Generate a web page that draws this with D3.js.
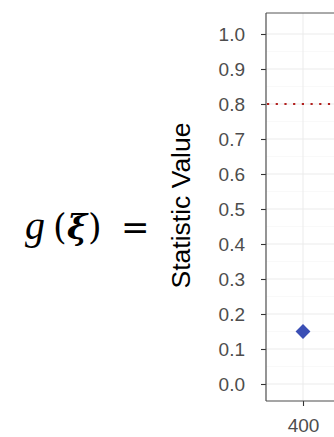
<!DOCTYPE html>
<html>
<head>
<meta charset="utf-8">
<script src="https://cdn.jsdelivr.net/npm/d3@7"></script>
<style>
  html, body { margin: 0; padding: 0; background: #fff; overflow: hidden; }
  svg { display: block; }
</style>
</head>
<body>
<svg id="chart" width="334" height="437"></svg>
<script>
// Data
const xValues = [400];
const statValues = [0.15];
const threshold = [0.8];
const yTicks = [0.0, 0.1, 0.2, 0.3, 0.4, 0.5, 0.6, 0.7, 0.8, 0.9, 1.0];
const yMinor = [0.05, 0.15, 0.25, 0.35, 0.45, 0.55, 0.65, 0.75, 0.85, 0.95];
const xTicks = [400];
const yTitle = "Statistic Value";

const svg = d3.select("#chart");
const panel = { left: 266, top: 13, right: 560, bottom: 401 };

const x = d3.scaleLinear().domain([300, 1100]).range([panel.left, panel.left + 8 * 37]);
const y = d3.scaleLinear().domain([0, 1]).range([384, 34]);

// Formula to the left: g(ξ) =
const formulaParts = [
  { t: "g", x: 25, style: "italic", weight: "normal", family: "'Liberation Serif', serif", size: 40 },
  { t: "(", x: 53, style: "normal", weight: "normal", family: "'DejaVu Serif', serif", size: 35 },
  { t: "ξ", x: 67, style: "italic", weight: "bold", family: "'DejaVu Serif', serif", size: 34 },
  { t: ")", x: 88, style: "normal", weight: "normal", family: "'DejaVu Serif', serif", size: 35 },
  { t: "=", x: 121, style: "normal", weight: "normal", family: "'DejaVu Serif', serif", size: 34 }
];
svg.append("g").selectAll("text").data(formulaParts).join("text")
  .attr("x", d => d.x).attr("y", 239)
  .attr("font-family", d => d.family)
  .attr("font-style", d => d.style)
  .attr("font-weight", d => d.weight)
  .attr("font-size", d => d.size)
  .attr("fill", "#000")
  .text(d => d.t);

// Grid
const g = svg.append("g");
g.selectAll("line.minor").data(yMinor).join("line")
  .attr("x1", panel.left).attr("x2", panel.right)
  .attr("y1", d => y(d)).attr("y2", d => y(d))
  .attr("stroke", "#f5f5f5").attr("stroke-width", 0.6);
g.selectAll("line.major").data(yTicks).join("line")
  .attr("x1", panel.left).attr("x2", panel.right)
  .attr("y1", d => y(d)).attr("y2", d => y(d))
  .attr("stroke", "#ebebeb").attr("stroke-width", 1);
g.selectAll("line.vmajor").data(xTicks).join("line")
  .attr("x1", d => x(d)).attr("x2", d => x(d))
  .attr("y1", panel.top).attr("y2", panel.bottom)
  .attr("stroke", "#ebebeb").attr("stroke-width", 1);

// Threshold line
svg.selectAll("line.thr").data(threshold).join("line")
  .attr("x1", panel.left + 1).attr("x2", panel.right)
  .attr("y1", d => y(d)).attr("y2", d => y(d))
  .attr("stroke", "#b2201e").attr("stroke-width", 2.2)
  .attr("stroke-dasharray", "2.2 6.5");

// Points
svg.selectAll("path.pt").data(xValues.map((v, i) => [v, statValues[i]])).join("path")
  .attr("d", d3.symbol(d3.symbolSquare, 110)())
  .attr("transform", d => `translate(${x(d[0])},${y(d[1])}) rotate(45)`)
  .attr("fill", "#3b4fb5");

// Panel border
svg.append("line").attr("x1", panel.left).attr("x2", panel.right)
  .attr("y1", panel.top).attr("y2", panel.top)
  .attr("stroke", "#555").attr("stroke-width", 1);

// Axes
const yAxis = d3.axisLeft(y).tickValues(yTicks).tickFormat(d3.format(".1f")).tickSize(5).tickPadding(16);
const ya = svg.append("g").attr("transform", `translate(${panel.left},0)`).call(yAxis);
const xAxis = d3.axisBottom(x).tickValues(xTicks).tickFormat(d3.format("d")).tickSize(5).tickPadding(13);
const xa = svg.append("g").attr("transform", `translate(0,${panel.bottom})`).call(xAxis);
[ya, xa].forEach(a => {
  a.select(".domain").remove();
  a.selectAll(".tick line").attr("stroke", "#333").attr("stroke-width", 1.1);
  a.selectAll(".tick text").attr("fill", "#4d4d4d")
    .attr("font-family", "'Liberation Sans', Arial, sans-serif").attr("font-size", 19);
});
svg.append("line").attr("x1", panel.left).attr("x2", panel.left)
  .attr("y1", panel.top).attr("y2", panel.bottom)
  .attr("stroke", "#4d4d4d").attr("stroke-width", 1.2);
svg.append("line").attr("x1", panel.left).attr("x2", panel.right)
  .attr("y1", panel.bottom).attr("y2", panel.bottom)
  .attr("stroke", "#4d4d4d").attr("stroke-width", 1.2);

// Y title
svg.append("text")
  .attr("transform", `translate(190,205.5) rotate(-90)`)
  .attr("text-anchor", "middle")
  .attr("font-family", "'Liberation Sans', Arial, sans-serif")
  .attr("font-size", 26.5)
  .attr("fill", "#000")
  .text(yTitle);
</script>
</body>
</html>
